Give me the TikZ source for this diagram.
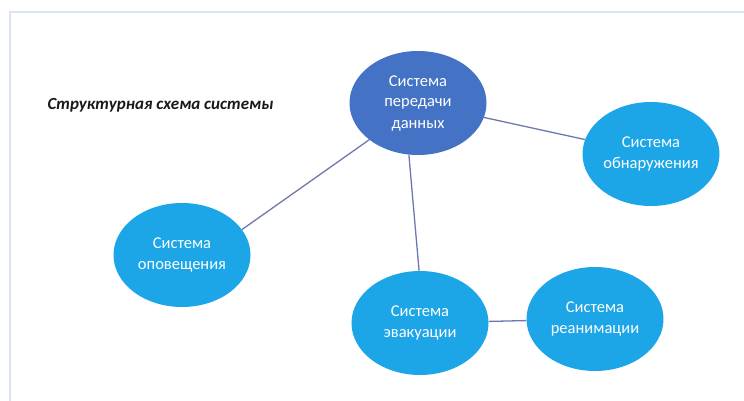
\documentclass[tikz,border=0pt]{standalone}
\usepackage{fontspec}
\setmainfont{Carlito}
\usetikzlibrary{shapes.geometric}
\definecolor{darkblue}{HTML}{4472C4}
\definecolor{lightblue}{HTML}{1CA6E8}
\definecolor{linkcol}{HTML}{6E78AE}
\definecolor{framecol}{HTML}{DAE4F4}

\begin{document}
\begin{tikzpicture}[x=1pt, y=-1pt, main/.style = {ellipse, fill=lightblue, text=white, minimum width=137pt, minimum height=104pt, inner sep=0pt, align=center, font=\fontsize{16.5}{21}\selectfont}, link/.style = {draw=linkcol, line width=1.3pt}]
        \useasboundingbox (0,0) rectangle (744,401);
        \draw[framecol, line width=1.5pt] (10,401) -- (10,12) -- (744,12);

        \node[anchor=west, font=\fontsize{17}{20}\selectfont\bfseries\itshape, text=black!90] (title) at (44,105) {Структурная схема системы};

        \node[main, fill=darkblue] (pd) at (418,103) {Система\\передачи\\данных};
        \node[main] (ob) at (651,154) {Система\\обнаружения};
        \node[main] (op) at (182,255) {Система\\оповещения};
        \node[main] (ev) at (420,323) {Система\\эвакуации};
        \node[main] (re) at (595,319) {Система\\реанимации};

        \draw[link] (pd) -- (ob);
        \draw[link] (pd.217) -- (op.23);
        \draw[link] (pd.260) -- (ev.91);
        \draw[link] (ev) -- (re);

    \end{tikzpicture}
\end{document}
